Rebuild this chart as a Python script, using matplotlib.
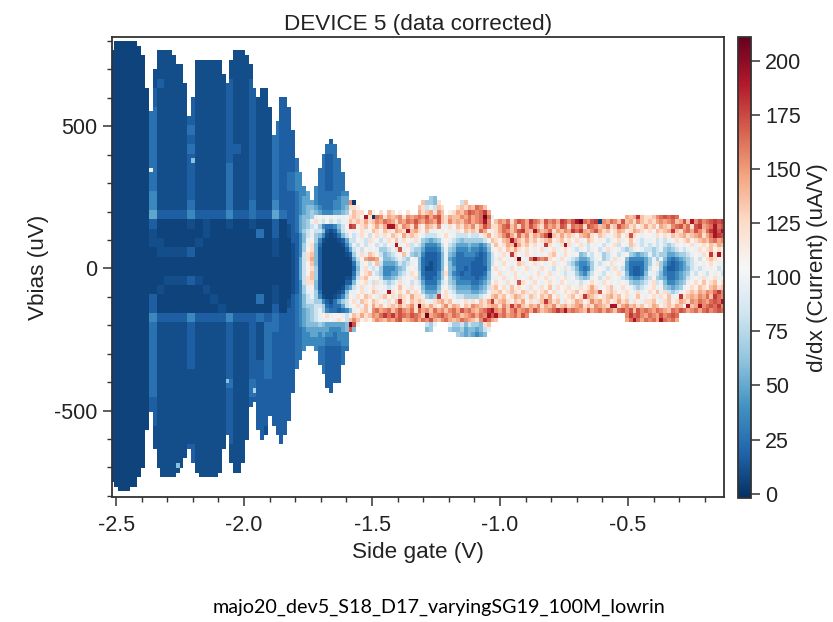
import numpy as np
import matplotlib
matplotlib.use("Agg")
import matplotlib.pyplot as plt
from matplotlib.ticker import MultipleLocator

LEVEL_CHARS = "0123456789abcdefghijk"
LEVEL_VALUES = [2, 6, 10, 17, 25, 36, 48, 58, 68, 82, 96, 110, 124, 136, 146, 155, 164, 172, 180, 192, 207]

GATE_START = -2.522
GATE_STEP = 0.015
BIAS_START = 800.0
BIAS_STEP = 16.5
N_COLS = 160
N_ROWS = 98

# upper / lower limit of the sweep for the first 62 gate steps (uV)
TOP_UV = [763, 794, 794, 794, 794, 794, 794, 778, 745, 634, 552, 698, 763, 763, 763, 763, 745, 713, 713, 651,
          536, 601, 731, 731, 731, 731, 731, 731, 731, 681, 649, 731, 763, 763, 763, 745, 713, 634, 601, 634,
          634, 567, 470, 520, 601, 601, 567, 487, 393, 340, 293, 276, 247, 293, 358, 407, 440, 454, 440, 393,
          340, 276]
BOTTOM_UV = [-756, -774, -789, -789, -789, -774, -774, -741, -707, -563, -498, -642, -707, -741, -741, -741, -741, -724, -707, -676,
             -642, -692, -724, -741, -741, -741, -741, -741, -724, -642, -578, -692, -724, -724, -692, -609, -480, -463, -563, -609,
             -578, -513, -545, -594, -627, -594, -530, -434, -351, -318, -287, -269, -269, -287, -334, -369, -416, -434, -401, -401,
             -334, -287]

# coarse table: each character covers 2 gate steps x 2 bias steps
COARSE = """
11111 2 2222 2 2222 2 22 2 22 2 2 22222222
11111 2 2222 2 2222 2 22 2 22 2 2 22222222
11111 2 2222 2 2222 2 22 2 22 2 2 22222222
11111 2 2222 3 2222 2 22 2 22 2 2 22222222
11111 2 3222 3 2222 3 22 3 22 3 3 33333333
11111 3 2222 3 2222 3 22 3 22 3 3 33333333
11111 3 2222 3 2222 3 22 3 22 3 3 33433333
11111 4 2222 3 2222 3 22 3 22 4 3 34443333
11111 4 2222 3 2222 3 22 3 22 4 3 34443333
11111 4 2222 4 2222 3 22 3 22 4 3 34443333
11111 4 2222 3 2222 3 22 3 22 4 3 34554333
11111 4 2222 4 2222 3 32 3 22 4 3 34554444
11111 4 2222 3 2222 3 22 3 22 4 3 34554344
11111 4 2222 3 2222 4 22 3 22 4 3 34554344
11111 4 2222 3 2222 4 22 3 22 4 3 45554344
11111 4 2222 3 2222 4 22 3 22 4 3 45554344
11111 5 2222 3 2222 4 22 3 22 4 3 45654444
11111 5 2222 4 2222 4 22 4 22 5 3 45654444
11111 6 3333 5 3333 5 33 4 33 6 4 46666666
11111 3 1111 2 1211 2 11 2 11 3 1 33455433
11111 2 1111 1 1211 1 11 1 41 3 1 33455433
11111 2 2111 1 2111 1 11 1 11 2 1 33455433
11111 1 2222 3 1111 1 11 1 11 2 1 33455433
11111 1 1111 1 1111 1 11 1 11 1 1 33455433
11111 1 1111 1 1111 1 11 1 11 1 1 33455433
11111 1 1222 3 2111 1 11 1 11 1 1 33455433
11111 1 2111 1 1211 1 11 1 11 2 1 33455433
11111 3 1111 1 1121 1 11 1 41 2 1 33455433
11111 3 1111 1 1112 1 11 1 11 3 1 33455433
11111 5 3333 5 3333 5 33 3 43 4 3 34566543
11111 4 2222 3 2222 3 22 3 24 4 3 34554334
11111 4 2222 3 2222 3 22 3 24 3 3 34554334
11111 4 2222 3 2222 3 22 3 24 3 3 34554334
11111 4 2222 3 2222 3 22 3 24 3 3 34554334
11111 4 2222 3 2222 3 22 3 34 3 3 34554334
11111 4 2222 2 2222 3 22 3 34 3 3 34554334
11111 4 2222 2 2222 4 22 4 33 3 3 34443334
11111 4 2222 2 2222 3 22 4 33 3 3 34443334
11111 3 2222 2 2222 3 22 3 33 3 3 33333333
11111 3 2222 2 2222 3 22 3 33 3 3 33333333
11111 3 2222 2 2222 3 22 3 33 3 3 33333333
11111 2 2222 2 2222 3 22 3 32 3 3 33333333
11111 2 2222 2 2222 3 22 3 32 3 3 33333333
11111 2 2222 3 2222 2 22 3 32 3 3 33333333
11111 2 2222 3 2222 2 22 3 22 2 2 22222222
11111 2 2222 2 2222 2 22 2 22 2 2 22222222
11111 2 2222 2 2222 2 22 2 22 2 2 22222222
11111 2 2222 2 2222 2 22 2 22 2 2 22222222
11111 2 2222 2 2222 2 22 2 22 2 2 22222222
"""

# fine table: one character per gate step and bias step, gate steps 46-159, from +272 uV down
FINE_FIRST_COL = 46
FINE_FIRST_ROW = 32
FINE = """
3345565544444455 .................. .................... .................... .................... ....................
3345665544444566 .................. ...87............... .................... .................... ....................
3345666544445566 f0................ .d887c.....9d....... .................... .................... ....................
3345677654445567 ccb............... dc9a9dc...cdcedgfd.. .................... .................... ....................
3345678765556678 bdcc.eb.c.dc.b.c.. ecdecfd.bcedfhgfgie. .................... .................... ....................
3346778abababaab cdcbjc0gfcedefcfef gfheghdceddfegefgkga .................... ..............edeidc cdfghghg............
334678aca9b9a9aa dcdcecdfegfecfegfh fegfehdcfdedfgefgjfb dfegcfhgeigfdhfgeihf hjkgfhi1fegfdhdecfdc dcefefgdehdjfhfghihi
2346789a8544579b ihbcdbcecejjecfecg cbedcfbacbdcedfcehfc ceghdfcgehfdcgefdhgc gfgchgfdegcdhfecdbce cdbedcfghegchiefgjgh
234689a99732369a babcabdcbdcbedcjde cbdaababaacbdcdcgeba cegfdfhiedjfdegcedfe igiedfhecdbcedbcedcb cbdcdeidcfgehfdgijhj
233579a875212479 b9acb9bcacbdcbecdc ba999abcba999a99aceb cdfhecgdfcedfhkdcecd cbdefcbdcabcdbchcbab bacbcbdcdecdefcegjih
13357ab852111236 99ba9cab9acbdacbac a87678aba987888889bd cbdejfdcecdbcdebcdbc bcabdcbab9abcabdba9a ab9a9abcbcdbcdedfgef
12358ac741111125 8a9b9ab9a9bajabc9a 9755569b98666766568b dbcedjecdbcbaicbacjc abca9bab9abc9badca9a 9a9a989ababcabcbdced
12358bc731111113 69a9baba889achab98 8644458a87555655457a bcbdcecbcbabcabcabcb a9ab9ab9acaba989aba9 989a8789a9abacbcdbcb
12359cd731111112 38acadcb9789abda87 8533347a764455543469 bacbicbacbababcdbacb ab78a9ba89ab9ab87678 a8988667889abacbicjc
12369ce731111111 269beffea7789a98ba 7433347a654444433469 acbabckbagjgfgcbacba 986679ab89acab755556 8a8a75456789b9bcdcbb
12369bd731111111 148ab9bd96667989ab 7432347a754444333469 bacbabdcabcababcaba9 865568a9abcaba644446 8ac8643456 89ababcbaa
12369bc831111111 137aca9a8555678aba 7422347b764434333 36a cabacbabcabacba9baca 975458aba9aca9643346 9ba853345679a9abab9a
12369bd831111111 148bcda98556689acb 8433358c754344333 47a bcabacbababcabcaba9a a86579ba9babca743347 aa975445678a9ba9bab9
12369cd831111112 259cdbab966789abac 8533458b865444434 57a abcabcabacbabcababca b9878ab9acaba9865568 9b876445679abacabcab
12359cc731111113 37abca9ca989acab9a 9644469a875555445 68b cbacbahcbacbabcbacba ab9abcbacbababa87789 ac9a755678abcbdbcdbc
12358ab731111125 69acabcaba9abdbacb a75557ab986666556 79c dbcadbcbacbacbdacbac bacbcecabcdabcba989a bcab876 78abcbdcbdecd
12358aa841111237 aabcabdcabjcbcbdac b86668bca977776678ac cdbcdcbdcacbcdbcabcb cdbcdedhbcdcbacbacab cbdac989abcdcedfegif
134579a852112358 bacbdcbacdbcadcbec ca878iacba9988889abd ecdbcedcadcbdcebcabc dbciedcbcdecdbcabdba bcacbdabicdedfegdigf
2345799885324689 bcadcbdcbacbdicbdc dcbacdecdbabcacbdcei cdecbdcebcacdiecdacb cedbcfdecdbcecdacbac cdbacdbcedcfegfeghgj
2345788998434469 abcadbecdbcdcecdfc kdcecbdfcedbdcfedcde ecfdiegdcedfcedfcdec defcdcfedcjjcefdecdb cedbcdcedbjdejfghgif
33456789a8544345 7abcdbfgefgdfhfegc gefdgefdfgehfgedfgij fegdfhefgehfdefgigjf gfedhefgegfdghfhdhfg fegfedgfhgefgeghfghg
33456789abcabba9 bdcecdfegigifhgfhg fdkefghfegfdefgegfjh jfgefgehf........... ..............fighfe gfehfghg............
33456789aaabacb9 dfdbcbdfedfeghdefg egfhedfgedegfedcfige d................... ..............egjgeg fgejgfge............
3345677787666667 khb............... ..98a...a88979887cd. .................... .................... ....................
3344566666655567 h7................ ..78....8778677679a. .................... .................... ....................
3344556656554555 .................. ..........87676567.. .................... .................... ....................
3344555555444555 .................. .................... .................... .................... ....................
3344555555444455 .................. .................... .................... .................... ....................
"""

# isolated bright cells: gate step, bias (uV), value
SPOT_COLS = [10, 21, 30, 37, 17]
SPOT_BIAS = [353, 385, -396, -425, -700]
SPOT_VALUES = [95, 60, 60, 72, 60]

TITLE = "DEVICE 5 (data corrected)"
X_LABEL = "Side gate (V)"
Y_LABEL = "Vbias (uV)"
CBAR_LABEL = "d/dx (Current) (uA/V)"
CAPTION = "majo20_dev5_S18_D17_varyingSG19_100M_lowrin"
CBAR_TICKS = [0, 25, 50, 75, 100, 125, 150, 175, 200]
X_TICKS = [-2.5, -2.0, -1.5, -1.0, -0.5]
Y_TICKS = [-500, 0, 500]

value_of = dict(zip(LEVEL_CHARS, LEVEL_VALUES))
grid = np.full((N_ROWS, N_COLS), np.nan)

for r, line in enumerate(COARSE.split("\n")[1:-1]):
    for j, ch in enumerate(line.replace(" ", "")):
        grid[2 * r:2 * r + 2, 2 * j:2 * j + 2] = value_of[ch]

x_edges = GATE_START + GATE_STEP * np.arange(N_COLS + 1)
y_edges = BIAS_START - BIAS_STEP * np.arange(N_ROWS + 1)
y_centres = 0.5 * (y_edges[:-1] + y_edges[1:])

for c, (t, b) in enumerate(zip(TOP_UV, BOTTOM_UV)):
    grid[(y_centres > t) | (y_centres < b), c] = np.nan
grid[:, len(TOP_UV):] = np.nan

for c, uv, v in zip(SPOT_COLS, SPOT_BIAS, SPOT_VALUES):
    grid[int(np.argmin(np.abs(y_centres - uv))), c] = v

for i, line in enumerate(FINE.split("\n")[1:-1]):
    for k, ch in enumerate(line.replace(" ", "")):
        if ch == ".":
            continue
        row = FINE_FIRST_ROW + i
        col = FINE_FIRST_COL + k
        if col < len(TOP_UV) and not (BOTTOM_UV[col] <= y_centres[row] <= TOP_UV[col]):
            continue
        if col < N_COLS:
            grid[row, col] = value_of[ch]

plt.rcParams["font.family"] = ["Liberation Sans", "DejaVu Sans"]
W, H = 833, 622
fig = plt.figure(figsize=(W / 100, H / 100), dpi=100, facecolor="white")
DARK = "#333333"


def box(l, t, r, b):
    return [l / W, 1 - b / H, (r - l) / W, (b - t) / H]


ax = fig.add_axes(box(112, 37, 724, 497))
mesh = ax.pcolormesh(x_edges, y_edges, np.ma.masked_invalid(grid), cmap="RdBu_r",
                     vmin=-2, vmax=211, shading="flat", linewidth=0, rasterized=True)
ax.set_xlim(-2.516, -0.125)
ax.set_ylim(-804, 814)
ax.set_xticks(X_TICKS)
ax.set_xticklabels([f"{v:.1f}" for v in X_TICKS])
ax.set_yticks(Y_TICKS)
ax.set_yticklabels([str(v) for v in Y_TICKS])
ax.xaxis.set_minor_locator(MultipleLocator(0.1))
ax.yaxis.set_minor_locator(MultipleLocator(100))
ax.tick_params(which="major", length=6.3, width=1.1, color=DARK, labelcolor="#222222", labelsize=15.5)
ax.tick_params(axis="x", which="major", pad=7)
ax.tick_params(axis="y", which="major", pad=4)
ax.tick_params(which="minor", length=3.8, width=1.0, color=DARK)
for s in ax.spines.values():
    s.set_linewidth(1.3)
    s.set_color(DARK)
ax.set_title(TITLE, fontsize=16.2, color="#222222", pad=5)
ax.set_xlabel(X_LABEL, fontsize=16.2, color="#222222", labelpad=4)
ax.set_ylabel(Y_LABEL, fontsize=16.2, color="#222222", labelpad=4)

cax = fig.add_axes(box(738, 37, 751, 498))
cb = fig.colorbar(mesh, cax=cax)
cb.set_ticks(CBAR_TICKS)
cb.ax.tick_params(length=6.3, width=1.1, color=DARK, labelcolor="#222222", labelsize=15.5, pad=4)
cb.outline.set_linewidth(1.3)
cb.outline.set_edgecolor(DARK)
fig.text(817 / W, 1 - 268 / H, CBAR_LABEL, rotation=90, ha="center", va="center", fontsize=16.2, color="#222222")

fig.text(439 / W, 1 - 607 / H, CAPTION, ha="center", va="center", fontsize=14.2, color="black", family="Lato")

fig.savefig("out.png", dpi=100)
